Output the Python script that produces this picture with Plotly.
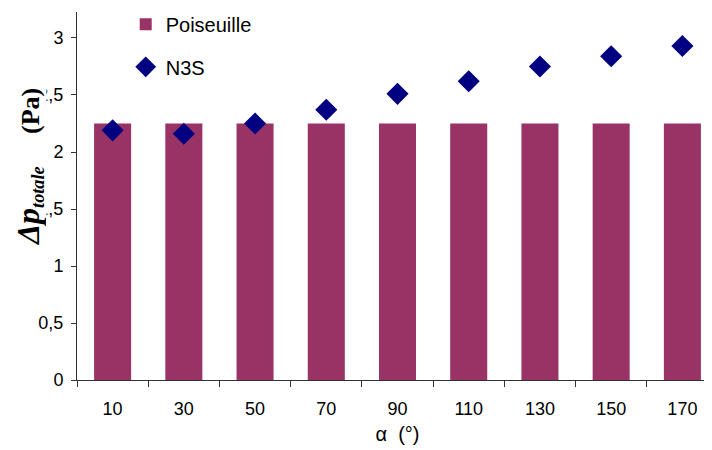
import plotly.graph_objects as go

# angles alpha (deg) and pressure drops (Pa)
alpha = ["10", "30", "50", "70", "90", "110", "130", "150", "170"]
poiseuille = [2.25, 2.25, 2.25, 2.25, 2.25, 2.25, 2.25, 2.25, 2.25]
n3s = [2.19, 2.16, 2.25, 2.37, 2.51, 2.62, 2.75, 2.84, 2.93]

fig = go.Figure()
fig.add_trace(go.Bar(x=alpha, y=poiseuille, name="Poiseuille", showlegend=True,
                     marker=dict(color="#993366", line=dict(width=0))))
fig.add_trace(go.Scatter(x=alpha, y=n3s, name="N3S", mode="markers",
                         legend="legend2", showlegend=True,
                         marker=dict(symbol="diamond", size=17, color="#000080")))

# the page body adds 8px, so margins are shifted by that
fig.update_layout(
    width=712, height=450,
    margin=dict(l=69, r=2, t=4, b=78, autoexpand=False),
    paper_bgcolor="white", plot_bgcolor="white",
    separators=", ",
    bargap=0.48,
    showlegend=True,
    font=dict(family="Liberation Sans, Arial", size=18, color="black"),
    legend=dict(x=0.076, y=0.967, xanchor="left", yanchor="middle",
                font=dict(size=20), bgcolor="rgba(0,0,0,0)"),
    legend2=dict(x=0.076, y=0.851, xanchor="left", yanchor="middle",
                 font=dict(size=20), bgcolor="rgba(0,0,0,0)"),
    xaxis=dict(range=[-0.5, 8.5], showline=True, linecolor="#333333", linewidth=1,
               ticks="outside", tickson="boundaries", ticklen=6, tickcolor="#333333",
               ticklabelstandoff=12, showgrid=False, zeroline=False, automargin=False,
               title=dict(text="α  (°)", font=dict(size=20), standoff=9)),
    yaxis=dict(range=[0, 3.228], dtick=0.5, showline=True, linecolor="#333333",
               linewidth=1, ticks="outside", ticklen=5, tickcolor="#333333",
               ticklabelstandoff=4, showgrid=False, zeroline=False, automargin=False),
)

# y-axis title drawn over the tick labels, as in the original
fig.add_annotation(
    text="<b><i><span style='font-size:32px'>Δp</span></i><sub><i>totale</i></sub>"
         "&nbsp;&nbsp;&nbsp;&nbsp;&nbsp;(Pa)</b>",
    xref="paper", yref="paper", x=-0.075, y=0.579, textangle=-90,
    xanchor="center", yanchor="middle", width=170, height=34,
    showarrow=False, bgcolor="white", borderpad=0,
    font=dict(family="Liberation Serif, Times New Roman", size=26, color="black"),
)

fig.write_html("out.html")
